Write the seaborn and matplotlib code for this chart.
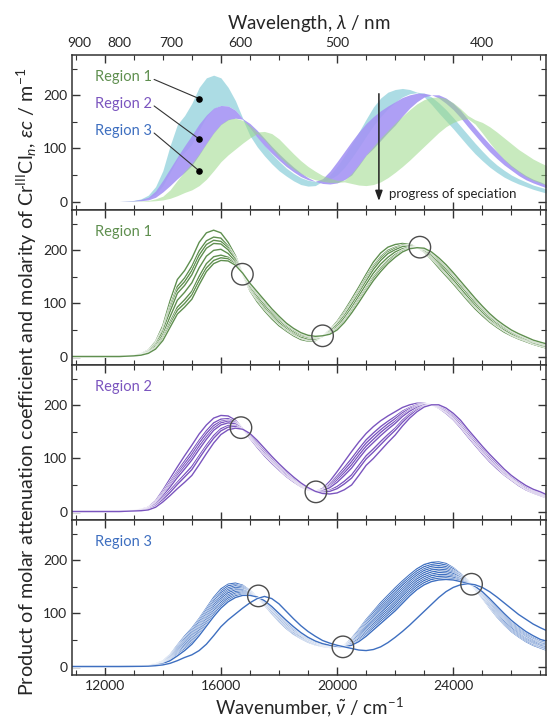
import numpy as np
import pandas as pd
import seaborn as sns
import matplotlib.pyplot as plt
import matplotlib.patheffects as pe
from matplotlib.ticker import MultipleLocator, NullLocator

# wavenumber grid (cm^-1) shared by all spectra
wavenumber = [10880, 12500,
              13000, 13250, 13500, 13750, 14000, 14250, 14500, 14750, 15000, 15250,
              15500, 15750, 16000, 16250, 16500, 16750, 17000, 17250, 17500, 17750,
              18000, 18250, 18500, 18750, 19000, 19250, 19500, 19750, 20000, 20250,
              20500, 20750, 21000, 21250, 21500, 21750, 22000, 22250, 22500, 22750,
              23000, 23250, 23500, 23750, 24000, 24250, 24500, 24750, 25000, 25250,
              25500, 25750, 26000, 26250, 26500, 26750, 27000,
              27200]

# one row per wavenumber, one column per spectrum
region1_rows = [
    [0, 0, 0, 0, 0, 0, 0, 0],
    [0, 0, 0, 0, 0, 0, 0, 0],
    [2, 1.8, 1.8, 1.7, 1.5, 1.4, 1.3, 1.2],
    [5, 4.5, 4.3, 4, 3.5, 3, 2.8, 2.5],
    [12, 10.8, 10.2, 9.6, 8.4, 7.2, 6.6, 6],
    [28, 25.2, 23.8, 22.4, 19.6, 16.8, 15.4, 14],
    [58, 52, 50, 47, 41, 36, 33, 30],
    [105, 95, 90, 85, 75, 65, 60, 55],
    [145, 132, 126, 119, 106, 93, 87, 80],
    [162, 148, 141, 134, 121, 107, 100, 93],
    [185, 170, 162, 154, 139, 123, 116, 108],
    [215, 199, 191, 183, 167, 151, 143, 135],
    [233, 218, 211, 204, 189, 175, 167, 160],
    [238, 225, 219, 213, 200, 188, 181, 175],
    [233, 223, 217, 212, 202, 191, 186, 181],
    [215, 208, 205, 201, 194, 187, 184, 180],
    [190, 186, 185, 183, 179, 176, 174, 172],
    [155, 155, 156, 156, 156, 157, 157, 157],
    [124, 127, 128, 130, 132, 135, 137, 138],
    [103, 107, 109, 111, 114, 118, 120, 122],
    [86, 90, 92, 94, 98, 102, 104, 106],
    [71, 75, 77, 79, 82, 86, 88, 90],
    [58, 62, 63, 65, 69, 72, 74, 76],
    [48, 51, 53, 54, 57, 60, 62, 63],
    [39, 42, 43, 45, 47, 50, 52, 53],
    [32, 35, 36, 37, 40, 42, 44, 45],
    [29, 31, 32, 33, 36, 38, 39, 40],
    [30, 32, 32, 33, 35, 36, 37, 38],
    [38, 38, 38, 38, 39, 39, 39, 39],
    [50, 48, 48, 47, 45, 44, 43, 42],
    [66, 63, 61, 60, 56, 53, 52, 50],
    [86, 82, 79, 77, 73, 68, 66, 64],
    [108, 103, 100, 98, 92, 87, 85, 82],
    [131, 125, 122, 119, 114, 108, 105, 102],
    [155, 149, 145, 142, 136, 129, 126, 123],
    [178, 171, 168, 164, 157, 150, 147, 143],
    [195, 188, 185, 181, 174, 167, 164, 160],
    [206, 200, 197, 194, 187, 181, 178, 175],
    [211, 206, 204, 201, 197, 192, 189, 187],
    [213, 210, 208, 207, 203, 200, 199, 197],
    [211, 209, 209, 208, 206, 205, 204, 203],
    [206, 206, 206, 206, 205, 205, 205, 205],
    [197, 198, 199, 200, 201, 203, 203, 204],
    [183, 186, 187, 189, 191, 194, 196, 197],
    [167, 171, 173, 175, 178, 182, 184, 186],
    [152, 156, 158, 160, 165, 169, 171, 173],
    [137, 141, 143, 145, 150, 154, 156, 158],
    [121, 125, 127, 129, 134, 138, 140, 142],
    [105, 109, 111, 113, 118, 122, 124, 126],
    [90, 94, 96, 98, 102, 106, 108, 110],
    [77, 81, 82, 84, 88, 91, 93, 95],
    [65, 68, 70, 71, 75, 78, 79, 81],
    [55, 58, 59, 61, 63, 66, 68, 69],
    [46, 49, 50, 51, 54, 56, 58, 59],
    [39, 41, 42, 43, 46, 48, 49, 50],
    [33, 35, 36, 37, 39, 41, 42, 43],
    [28, 30, 31, 32, 33, 35, 36, 37],
    [23, 25, 25, 26, 28, 29, 30, 31],
    [19, 21, 21, 22, 24, 25, 26, 27],
    [16, 18, 18, 19, 21, 22, 23, 24],
]

region2_rows = [
    [0, 0, 0, 0, 0, 0, 0, 0],
    [0, 0, 0, 0, 0, 0, 0, 0],
    [2, 1.8, 1.7, 1.6, 1.5, 1.3, 1.2, 1],
    [4, 3.5, 3.3, 3, 2.8, 2.3, 2, 1.5],
    [8, 7, 6.5, 6, 5.5, 4.5, 4, 3],
    [20, 17.6, 16.4, 15.2, 14, 11.6, 10.4, 8],
    [40, 36, 33, 31, 29, 25, 22, 18],
    [62, 56, 52, 49, 46, 40, 36, 30],
    [84, 76, 72, 68, 64, 55, 51, 43],
    [105, 95, 90, 85, 80, 70, 65, 55],
    [125, 114, 108, 102, 97, 85, 79, 68],
    [146, 134, 129, 123, 117, 105, 100, 88],
    [163, 152, 147, 141, 136, 125, 120, 109],
    [176, 167, 162, 157, 153, 143, 138, 129],
    [181, 174, 170, 167, 163, 156, 152, 145],
    [180, 175, 172, 170, 167, 162, 159, 154],
    [172, 169, 168, 166, 165, 162, 160, 157],
    [156, 156, 156, 156, 156, 155, 155, 155],
    [138, 140, 141, 142, 143, 144, 145, 147],
    [121, 124, 125, 126, 128, 130, 131, 134],
    [105, 108, 109, 111, 112, 115, 116, 119],
    [91, 94, 95, 96, 98, 100, 101, 104],
    [78, 80, 82, 83, 84, 86, 88, 90],
    [66, 68, 69, 70, 72, 74, 75, 77],
    [56, 58, 59, 60, 61, 62, 63, 65],
    [47, 48, 49, 50, 51, 52, 53, 54],
    [41, 42, 42, 43, 43, 44, 44, 45],
    [38, 38, 38, 38, 38, 38, 38, 38],
    [43, 41, 40, 39, 39, 37, 36, 34],
    [57, 52, 50, 47, 45, 40, 38, 33],
    [75, 67, 63, 59, 55, 47, 43, 35],
    [94, 83, 78, 73, 68, 57, 52, 41],
    [113, 100, 94, 88, 82, 69, 63, 50],
    [131, 118, 112, 106, 100, 87, 81, 68],
    [147, 135, 129, 123, 117, 105, 99, 87],
    [160, 148, 142, 136, 130, 118, 112, 100],
    [171, 160, 154, 149, 143, 132, 126, 115],
    [180, 170, 165, 160, 155, 145, 140, 130],
    [188, 179, 175, 170, 166, 157, 153, 144],
    [196, 189, 186, 182, 179, 172, 168, 161],
    [201, 196, 194, 191, 189, 184, 181, 176],
    [204, 201, 199, 198, 196, 193, 191, 188],
    [204, 203, 202, 201, 201, 199, 198, 197],
    [201, 201, 201, 201, 201, 201, 201, 201],
    [195, 196, 197, 197, 198, 199, 200, 201],
    [185, 187, 188, 189, 190, 192, 193, 195],
    [173, 175, 177, 178, 179, 181, 183, 185],
    [158, 161, 162, 164, 165, 168, 169, 172],
    [141, 144, 145, 147, 148, 151, 152, 155],
    [125, 128, 129, 131, 132, 135, 136, 139],
    [109, 112, 113, 115, 116, 119, 120, 123],
    [94, 97, 98, 100, 101, 104, 105, 108],
    [81, 84, 85, 86, 88, 90, 91, 94],
    [69, 71, 72, 73, 75, 77, 78, 80],
    [59, 61, 62, 63, 64, 65, 66, 68],
    [49, 51, 52, 53, 54, 55, 56, 58],
    [41, 43, 43, 44, 45, 47, 47, 49],
    [35, 36, 37, 38, 39, 40, 41, 42],
    [30, 31, 32, 33, 34, 35, 36, 37],
    [26, 27, 28, 28, 29, 30, 31, 32],
]

region3_rows = [
    [0, 0, 0, 0, 0, 0, 0, 0, 0, 0, 0],
    [0, 0, 0, 0, 0, 0, 0, 0, 0, 0, 0],
    [0.5, 0.5, 0.5, 0.4, 0.4, 0.4, 0.4, 0.4, 0.3, 0.3, 0.3],
    [1, 0.95, 0.9, 0.85, 0.8, 0.75, 0.7, 0.65, 0.6, 0.55, 0.5],
    [2, 1.9, 1.8, 1.7, 1.6, 1.5, 1.4, 1.3, 1.2, 1.1, 1],
    [5, 4.8, 4.5, 4.3, 4, 3.8, 3.5, 3.3, 3, 2.8, 2.5],
    [10, 9.5, 9, 8.5, 8, 7.5, 7, 6.5, 6, 5.5, 5],
    [22, 21, 20, 19, 18, 16.5, 15, 14, 13, 12, 11],
    [40, 38, 36, 34, 32, 30, 28, 26, 24, 22, 20],
    [57, 54, 52, 49, 46, 44, 41, 38, 35, 33, 30],
    [72, 69, 66, 63, 60, 57, 54, 51, 48, 45, 42],
    [90, 87, 84, 80, 77, 74, 71, 68, 64, 61, 58],
    [110, 107, 103, 100, 96, 93, 90, 86, 83, 79, 76],
    [130, 126, 123, 119, 116, 112, 108, 105, 101, 98, 94],
    [146, 142, 139, 135, 132, 128, 124, 121, 117, 114, 110],
    [155, 152, 148, 145, 142, 139, 135, 132, 129, 125, 122],
    [157, 154, 152, 149, 146, 144, 141, 138, 135, 133, 130],
    [153, 151, 149, 147, 145, 144, 142, 140, 138, 136, 134],
    [143, 142, 141, 140, 139, 139, 138, 137, 136, 135, 134],
    [131, 131, 131, 131, 131, 131, 131, 131, 131, 131, 131],
    [116, 117, 118, 118, 119, 120, 121, 122, 122, 123, 124],
    [100, 101, 103, 104, 105, 107, 108, 109, 110, 112, 113],
    [85, 87, 88, 90, 91, 93, 94, 96, 97, 99, 100],
    [72, 74, 75, 77, 78, 80, 81, 83, 84, 86, 87],
    [61, 62, 64, 65, 67, 68, 69, 71, 72, 74, 75],
    [53, 54, 55, 56, 57, 59, 60, 61, 62, 63, 64],
    [46, 47, 48, 49, 50, 51, 51, 52, 53, 54, 55],
    [41, 42, 42, 43, 44, 45, 45, 46, 47, 47, 48],
    [38, 38.5, 39, 39.5, 40, 40.5, 41, 41.5, 42, 42.5, 43],
    [36, 36.4, 36.8, 37.2, 37.6, 38, 38.4, 38.8, 39.2, 39.6, 40],
    [36, 36.2, 36.4, 36.6, 36.8, 37, 37.2, 37.4, 37.6, 37.8, 38],
    [40, 39.7, 39.4, 39.1, 38.8, 38.5, 38.2, 37.9, 37.6, 37.3, 37],
    [53, 52, 50, 49, 48, 47, 45, 44, 43, 41, 40],
    [70, 68, 65, 63, 61, 59, 56, 54, 52, 49, 47],
    [88, 85, 82, 79, 76, 73, 69, 66, 63, 60, 57],
    [104, 101, 97, 94, 90, 87, 83, 80, 76, 73, 69],
    [120, 116, 112, 108, 104, 101, 97, 93, 89, 85, 81],
    [134, 130, 126, 122, 118, 114, 109, 105, 101, 97, 93],
    [148, 144, 139, 135, 131, 127, 122, 118, 114, 109, 105],
    [161, 157, 153, 148, 144, 140, 136, 132, 127, 123, 119],
    [173, 169, 165, 161, 157, 153, 149, 145, 141, 137, 133],
    [184, 180, 176, 172, 168, 165, 161, 157, 153, 149, 145],
    [192, 188, 184, 181, 177, 173, 169, 165, 162, 158, 154],
    [196, 192, 189, 185, 182, 178, 174, 171, 167, 164, 160],
    [197, 194, 190, 187, 183, 180, 177, 173, 170, 166, 163],
    [194, 191, 188, 185, 182, 179, 176, 173, 170, 167, 164],
    [186, 184, 181, 179, 177, 175, 172, 170, 168, 165, 163],
    [175, 174, 172, 171, 169, 168, 166, 165, 163, 162, 160],
    [162, 162, 161, 161, 160, 160, 159, 159, 158, 158, 157],
    [146, 147, 147, 148, 148, 149, 149, 150, 150, 151, 151],
    [129, 130, 131, 133, 134, 135, 136, 137, 139, 140, 141],
    [111, 113, 114, 116, 118, 120, 121, 123, 125, 126, 128],
    [94, 96, 98, 100, 102, 104, 106, 108, 110, 112, 114],
    [79, 81, 83, 85, 87, 90, 92, 94, 96, 98, 100],
    [66, 68, 70, 72, 74, 77, 79, 81, 83, 85, 87],
    [56, 58, 60, 62, 64, 66, 68, 70, 72, 74, 76],
    [47, 49, 51, 53, 55, 57, 58, 60, 62, 64, 66],
    [40, 42, 44, 45, 47, 49, 51, 53, 54, 56, 58],
    [35, 37, 38, 40, 41, 43, 45, 46, 48, 49, 51],
    [31, 33, 34, 36, 38, 40, 41, 43, 45, 46, 48],
]
# last, clearly separated spectrum of region 3
region3_last = [0, 0,
                0.2, 0.3, 0.6, 1.5, 3, 6, 11, 17, 22, 30, 42, 58, 75, 88, 99, 110,
                120, 128, 132, 128, 118, 104, 90, 77, 66, 57, 49, 44, 40, 37, 34, 31,
                30, 32, 37, 45, 55, 66, 78, 91, 104, 117, 130, 141, 149, 154, 156,
                154, 149, 141, 131, 120, 109, 98, 89, 80, 73,
                68]

# isosbestic points (wavenumber, value)
iso1_x, iso1_y = [16740, 19500, 22850], [155, 39, 206]
iso2_x, iso2_y = [16690, 19270], [158, 37]
iso3_x, iso3_y = [17290, 20200, 24630], [133, 37, 155]

nm_ticks = [900, 800, 700, 600, 500, 400]
region_names = ['Region 1', 'Region 2', 'Region 3']
line_colors = ['#5f8f4f', '#7b55bf', '#3e6fc0']
band_colors = ['#a8dbe3', '#a595f4', '#9bd989']
band_alpha = [0.95, 0.9, 0.55]
marker_y = [194, 118, 58]
label_y = [234, 184, 133]


def to_long(rows, extra=None):
    arr = np.array(rows, dtype=float)
    if extra is not None:
        arr = np.column_stack([arr, extra])
    parts = [pd.DataFrame({'wn': wavenumber, 'ec': arr[:, k], 'curve': k})
             for k in range(arr.shape[1])]
    return pd.concat(parts, ignore_index=True)


data = [to_long(region1_rows), to_long(region2_rows), to_long(region3_rows, region3_last)]
isos = [(iso1_x, iso1_y), (iso2_x, iso2_y), (iso3_x, iso3_y)]

sns.set_theme(style='ticks')
plt.rcParams['font.family'] = ['Lato', 'DejaVu Sans']
plt.rcParams['mathtext.fontset'] = 'custom'
plt.rcParams['mathtext.rm'] = 'Lato'
plt.rcParams['mathtext.it'] = 'Lato:italic'

fig, axes = plt.subplots(4, 1, figsize=(5.47, 7.2), dpi=100, sharex=True)
fig.subplots_adjust(left=0.132, right=0.998, top=0.9236, bottom=0.0625, hspace=0)

ax0 = axes[0]
top = ax0.twiny()

# overview: envelope of each region
for df, fc, a in zip(data, band_colors, band_alpha):
    env = df.groupby('wn')['ec'].agg(['min', 'max'])
    ax0.fill_between(env.index, env['min'], env['max'], color=fc, alpha=a, lw=0)

for name, col, my, ly in zip(region_names, line_colors, marker_y, label_y):
    ax0.text(11670, ly, name, color=col, fontsize=10.5, va='center', ha='left')
    ax0.plot([13700, 15244], [ly - 4, my], color='#333333', lw=0.8)
    ax0.scatter([15244], [my], s=14, color='black', zorder=5)

ax0.annotate('', xy=(21440, 1), xytext=(21440, 203),
             arrowprops=dict(arrowstyle='-|>,head_length=0.5,head_width=0.18',
                             color='#222222', lw=1.1, shrinkA=0, shrinkB=0))
ax0.text(21780, 14, 'progress of speciation', fontsize=9.5, va='center', ha='left')

halo = [pe.Stroke(linewidth=1.8, foreground='white'), pe.Normal()]
for ax, df, col, name, (ix, iy) in zip(axes[1:], data, line_colors, region_names, isos):
    sns.lineplot(data=df, x='wn', y='ec', units='curve', estimator=None, color=col,
                 lw=1.0, ax=ax, legend=False, path_effects=halo)
    ax.scatter(ix, iy, s=240, facecolors='none', edgecolors='#4d4d4d', lw=1.0, zorder=5)
    ax.text(11670, 235, name, color=col, fontsize=10.5, va='center', ha='left')

for ax in axes:
    ax.set_xlim(10880, 27190)
    ax.set_ylim(-16, 276)
    ax.set_xlabel('')
    ax.set_ylabel('')
    ax.xaxis.set_major_locator(MultipleLocator(4000))
    ax.xaxis.set_minor_locator(MultipleLocator(1000))
    ax.yaxis.set_major_locator(MultipleLocator(100))
    ax.yaxis.set_minor_locator(MultipleLocator(50))
    ax.tick_params(which='both', direction='in', top=True, right=True,
                   labeltop=False, labelsize=10, color='#333333')
    ax.tick_params(which='major', length=6, width=1)
    ax.tick_params(which='minor', length=3.5, width=0.8)
    for s in ax.spines.values():
        s.set_linewidth(1.1)
        s.set_color('#333333')

top.set_xlim(ax0.get_xlim())
top.set_xticks([1e7 / n for n in nm_ticks])
top.set_xticklabels([str(n) for n in nm_ticks])
top.xaxis.set_minor_locator(NullLocator())
top.tick_params(length=0, labelsize=10, pad=4)
top.set_xlabel('Wavelength, $\\lambda$ / nm', fontsize=13.5, labelpad=6)
for s in top.spines.values():
    s.set_visible(False)

axes[-1].set_xlabel('Wavenumber, $\\tilde{\\nu}$ / cm$^{-1}$', fontsize=13.5, labelpad=3)
fig.text(0.05, 0.47,
         'Product of molar attenuation coefficient and molarity of '
         'Cr$^{\\mathrm{III}}$Cl$_{n}$, $\\varepsilon c$ / m$^{-1}$',
         rotation=90, va='center', ha='center', fontsize=14.2)

fig.savefig('out.png', dpi=100)
